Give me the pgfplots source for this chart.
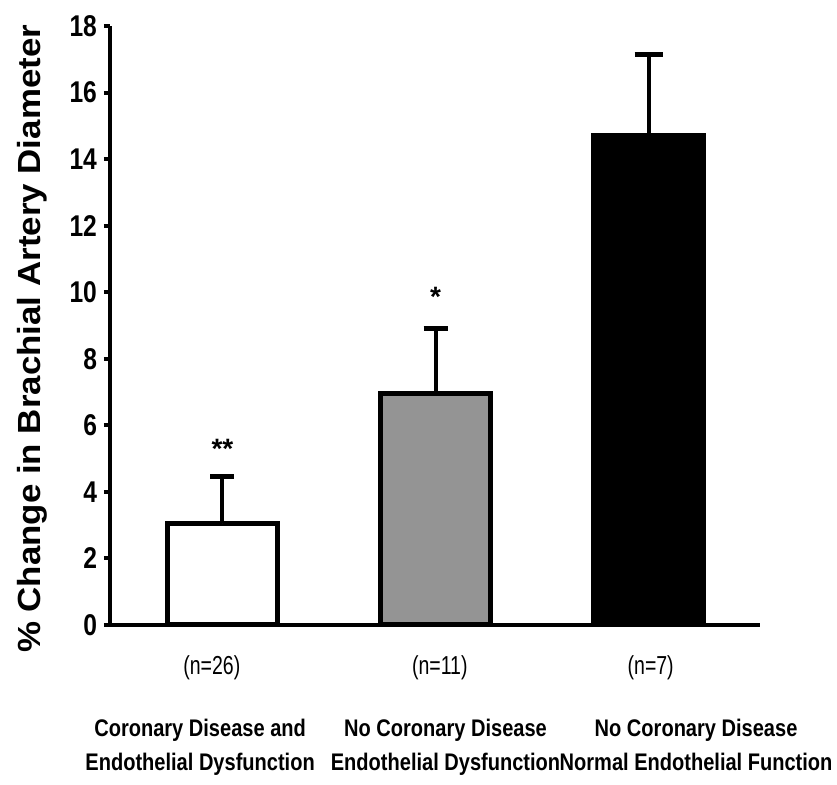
\documentclass[border=0pt]{standalone}
\usepackage{fontspec}
\setmainfont{Liberation Sans}
\newfontfamily\tickfont{Liberation Sans}[FakeStretch=0.82]
\newfontfamily\catfont{Liberation Sans}[FakeStretch=0.835]
\newfontfamily\nfont{Liberation Sans}[FakeStretch=0.75]
\newfontfamily\ylabfont{Liberation Sans}[FakeStretch=1.09]
\usepackage{pgfplots}
\pgfplotsset{compat=1.18}

\begin{document}
\begin{tikzpicture}
\useasboundingbox (-55pt,-80pt) rectangle (363.5pt,312.5pt);
\begin{axis}[
  scale only axis, width=325pt, height=299.5pt,
  xmin=-0.528, xmax=2.523, ymin=0, ymax=18,
  axis lines=left, axis line style={line width=2pt, -},
  ytick={0,2,...,18}, xtick=\empty,
  tick align=outside, major tick length=3pt,
  tick style={line width=2pt, black},
  /pgf/number format/assume math mode=true,
  yticklabel style={font=\tickfont\bfseries\fontsize{15}{15}\selectfont},
  ylabel={\% Change in Brachial Artery Diameter},
  ylabel style={at={(axis description cs:-0.12,0.4775)}, anchor=center,
    font=\ylabfont\bfseries\fontsize{16}{16}\selectfont},
  ybar, bar width=55pt, bar shift=0pt,
  clip=false,
]
% Coronary disease and endothelial dysfunction
\addplot[draw=black, line width=2.5pt, fill=white,
  error bars/.cd, y dir=plus, y explicit,
  error bar style={line width=2pt},
  error mark options={rotate=90, mark size=6pt, line width=2.5pt}]
  coordinates {(0,3.05) +- (0,1.40)};
% No coronary disease, endothelial dysfunction
\addplot[draw=black, line width=2.5pt, fill=black!42,
  error bars/.cd, y dir=plus, y explicit,
  error bar style={line width=2pt},
  error mark options={rotate=90, mark size=6pt, line width=2.5pt}]
  coordinates {(1,6.95) +- (0,1.95)};
% No coronary disease, normal endothelial function
\addplot[draw=black, line width=2.5pt, fill=black,
  error bars/.cd, y dir=plus, y explicit,
  error bar style={line width=2pt},
  error mark options={rotate=90, mark size=7pt, line width=2.5pt}]
  coordinates {(2,14.70) +- (0,2.45)};

% significance markers
\node[font=\bfseries\fontsize{14}{14}\selectfont] at (axis cs:0,5.3) {**};
\node[font=\bfseries\fontsize{14}{14}\selectfont] at (axis cs:1,9.85) {*};

% group sizes
\node[font=\nfont\fontsize{13}{13}\selectfont, anchor=base, yshift=-25pt] at (axis cs:-0.05,0) {(n=26)};
\node[font=\nfont\fontsize{13}{13}\selectfont, anchor=base, yshift=-25pt] at (axis cs:1.02,0) {(n=11)};
\node[font=\nfont\fontsize{13}{13}\selectfont, anchor=base, yshift=-25pt] at (axis cs:2.01,0) {(n=7)};

% group names
\node[font=\catfont\bfseries\fontsize{12}{12}\selectfont, anchor=base, yshift=-56pt] at (axis cs:-0.105,0) {Coronary Disease and};
\node[font=\catfont\bfseries\fontsize{12}{12}\selectfont, anchor=base, yshift=-73pt] at (axis cs:-0.105,0) {Endothelial Dysfunction};
\node[font=\catfont\bfseries\fontsize{12}{12}\selectfont, anchor=base, yshift=-56pt] at (axis cs:1.047,0) {No Coronary Disease};
\node[font=\catfont\bfseries\fontsize{12}{12}\selectfont, anchor=base, yshift=-73pt] at (axis cs:1.047,0) {Endothelial Dysfunction};
\node[font=\catfont\bfseries\fontsize{12}{12}\selectfont, anchor=base, yshift=-56pt] at (axis cs:2.223,0) {No Coronary Disease};
\node[font=\catfont\bfseries\fontsize{12}{12}\selectfont, anchor=base, yshift=-73pt] at (axis cs:2.223,0) {Normal Endothelial Function};
\end{axis}
\end{tikzpicture}
\end{document}
